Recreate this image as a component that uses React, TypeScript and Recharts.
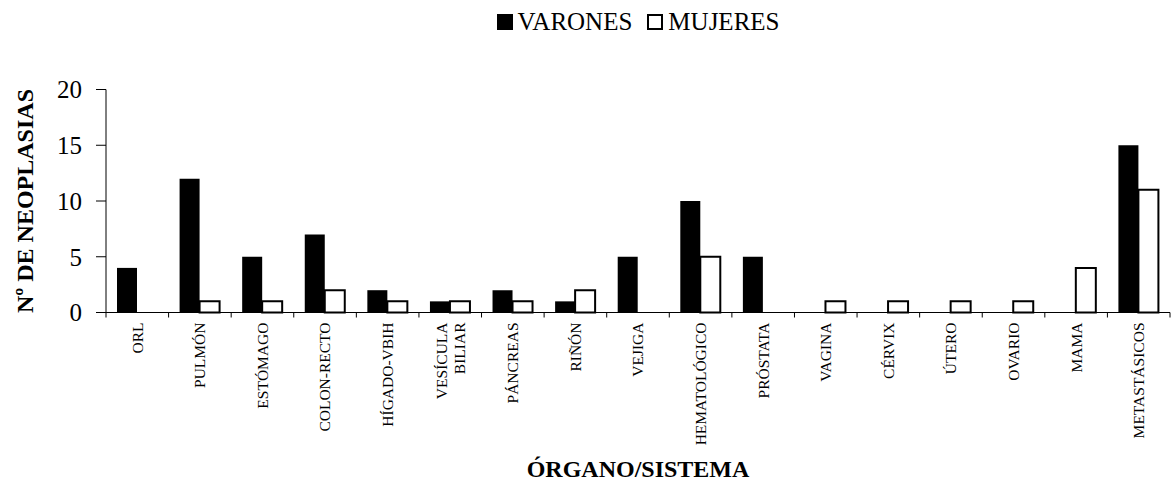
import { BarChart, Bar, XAxis, YAxis, Legend, Label } from "recharts";

const categories = [
  "ORL",
  "PULMÓN",
  "ESTÓMAGO",
  "COLON-RECTO",
  "HÍGADO-VBIH",
  "VESÍCULA\nBILIAR",
  "PÁNCREAS",
  "RIÑÓN",
  "VEJIGA",
  "HEMATOLÓGICO",
  "PRÓSTATA",
  "VAGINA",
  "CÉRVIX",
  "ÚTERO",
  "OVARIO",
  "MAMA",
  "METASTÁSICOS",
];
const varones = [4, 12, 5, 7, 2, 1, 2, 1, 5, 10, 5, 0, 0, 0, 0, 0, 15];
const mujeres = [0, 1, 1, 2, 1, 1, 1, 2, 0, 5, 0, 1, 1, 1, 1, 4, 11];
const yTicks = [0, 5, 10, 15, 20];

const series = [
  { key: "varones", name: "VARONES", fill: "#000000" },
  { key: "mujeres", name: "MUJERES", fill: "#ffffff" },
];

const data = categories.map((name, i) => ({
  name,
  varones: varones[i],
  mujeres: mujeres[i],
}));

const W = 1171;
const H = 484;
const MARGIN = { top: 89.5, right: 1, left: 0, bottom: 0 };
const Y_AXIS_W = 106;
const X_AXIS_H = H - 312.5;
const PLOT_W = W - MARGIN.left - MARGIN.right - Y_AXIS_W;
const HALF_BAND = PLOT_W / categories.length / 2;
const FONT = "'Liberation Serif', 'Times New Roman', serif";

const CategoryTick = (props: any) => {
  const { x, y, payload } = props;
  const lines = String(payload.value).split("\n");
  const isLast = payload.value === categories[categories.length - 1];
  return (
    <g>
      <line x1={x - HALF_BAND} x2={x - HALF_BAND} y1={y} y2={y + 5} stroke="#000" />
      {isLast && <line x1={x + HALF_BAND} x2={x + HALF_BAND} y1={y} y2={y + 5} stroke="#000" />}
      <text
        transform={`translate(${x},${y + 10}) rotate(-90)`}
        textAnchor="end"
        fontFamily={FONT}
        fontSize={15.5}
        fill="#000"
      >
        {lines.map((line, i) => (
          <tspan key={i} x={0} y={(i - (lines.length - 1) / 2) * 18} dy="0.35em">
            {line}
          </tspan>
        ))}
      </text>
    </g>
  );
};

const LegendBox = () => (
  <div
    style={{
      display: "flex",
      justifyContent: "center",
      alignItems: "center",
      fontFamily: FONT,
      fontSize: 25,
      lineHeight: "30px",
      color: "#000",
    }}
  >
    {series.map((s, i) => (
      <div key={s.key} style={{ display: "flex", alignItems: "center", marginLeft: i ? 15 : 0 }}>
        <span
          style={{
            display: "inline-block",
            width: 16,
            height: 16,
            boxSizing: "border-box",
            background: s.fill,
            border: "2px solid #000",
            marginRight: 5,
          }}
        />
        <span>{s.name}</span>
      </div>
    ))}
  </div>
);

const App = () => (
  <div style={{ position: "absolute", left: 0, top: 0, width: W, height: H, background: "#fff" }}>
    <BarChart width={W} height={H} data={data} margin={MARGIN} barSize={20} barGap={0}>
      <XAxis
        dataKey="name"
        interval={0}
        height={X_AXIS_H}
        tick={<CategoryTick />}
        tickLine={false}
        tickSize={0}
        tickMargin={0}
        axisLine={{ stroke: "#000" }}
      >
        <Label
          content={({ viewBox }: any) => (
            <text
              x={viewBox.x + viewBox.width / 2}
              y={477}
              textAnchor="middle"
              fontFamily={FONT}
              fontSize={24}
              fontWeight="bold"
              fill="#000"
            >
              ÓRGANO/SISTEMA
            </text>
          )}
        />
      </XAxis>
      <YAxis
        width={Y_AXIS_W}
        domain={[0, 20]}
        ticks={yTicks}
        interval={0}
        tickSize={10}
        tickMargin={14}
        axisLine={{ stroke: "#000" }}
        tickLine={{ stroke: "#000" }}
        tick={{ fontFamily: FONT, fontSize: 25, fill: "#000" }}
      >
        <Label
          content={({ viewBox }: any) => {
            const cy = viewBox.y + viewBox.height / 2;
            return (
              <text
                x={25}
                y={cy}
                transform={`rotate(-90, 25, ${cy})`}
                textAnchor="middle"
                dominantBaseline="central"
                fontFamily={FONT}
                fontSize={24}
                fontWeight="bold"
                fill="#000"
              >
                Nº DE NEOPLASIAS
              </text>
            );
          }}
        />
      </YAxis>
      <Legend
        verticalAlign="middle"
        align="center"
        wrapperStyle={{ top: 6.5, left: MARGIN.left + Y_AXIS_W, width: PLOT_W }}
        content={() => <LegendBox />}
      />
      {series.map((s) => (
        <Bar
          key={s.key}
          dataKey={s.key}
          name={s.name}
          fill={s.fill}
          stroke={s.key === "mujeres" ? "#000" : "none"}
          strokeWidth={2}
          isAnimationActive={false}
        />
      ))}
    </BarChart>
  </div>
);

export default App;
